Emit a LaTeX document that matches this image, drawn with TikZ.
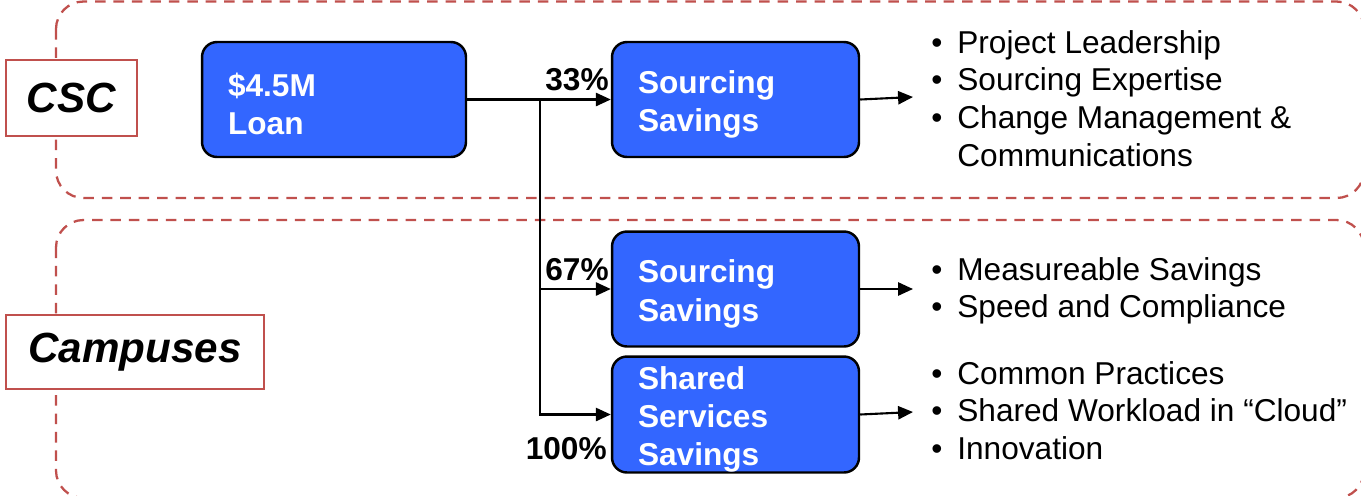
\documentclass[tikz,border=0pt]{standalone}
\usepackage{fontspec}
\setmainfont{Liberation Sans}
\usetikzlibrary{arrows.meta}
\definecolor{regred}{HTML}{C0504D}
\definecolor{boxblue}{HTML}{3366FF}
\tikzset{
  region/.style={draw=regred, line width=1.3pt, dash pattern=on 6pt off 4.5pt, rounded corners=0.55cm},
  tag/.style={draw=regred, line width=1.5pt, fill=white, font=\fontsize{24}{28}\selectfont\bfseries\itshape, inner sep=0pt},
  bluebox/.style={draw=black, line width=1.4pt, fill=boxblue, rounded corners=0.3cm, minimum height=2.3cm, inner xsep=0.52cm, inner ysep=0pt, align=left, text=white, font=\fontsize{18}{21.8}\selectfont\bfseries},
  conn/.style={draw=black, line width=1.2pt, -{Triangle[length=8.5pt,width=7.5pt]}},
  plainline/.style={draw=black, line width=1.2pt},
  pct/.style={font=\fontsize{18}{21.5}\selectfont\bfseries, inner sep=0pt, anchor=base east},
  blist/.style={font=\fontsize{18}{21.5}\selectfont, inner sep=0pt, anchor=base west},
}
\newcommand{\blt}{\textbullet}
\newcommand{\tstrut}{\rule{0pt}{18.6pt}}
\begin{document}
\begin{tikzpicture}[x=0.02cm, y=-0.02cm]
\useasboundingbox (0,0) rectangle (1361,495);
\clip (0,0) rectangle (1361,495);
% regions
\draw[region] (56,1.5) rectangle (1364,198);
\draw[region] (56,220) rectangle (1364,498);
% tags
\node[tag, minimum width=2.62cm, minimum height=1.52cm] (csc) at (71.5,98) {CSC};
\node[tag, minimum width=5.16cm, minimum height=1.48cm] (camp) at (135,352) {Campuses};
% boxes
\node[bluebox, minimum width=5.28cm, text width=4.24cm] (loan) at (334,99.5) {\tstrut\$4.5M\\Loan};
\node[bluebox, minimum width=4.94cm, text width=3.9cm] (src1) at (735.5,99.5) {\tstrut Sourcing\\Savings};
\node[bluebox, minimum width=4.94cm, text width=3.9cm] (src2) at (735.5,289) {\tstrut Sourcing\\Savings};
\node[bluebox, minimum width=4.94cm, text width=3.9cm] (shared) at (735.5,414.5) {\tstrut Shared\\Services\\Savings};
% connectors
\coordinate (j) at (540,99.5);
\draw[conn] (loan.east) -- (src1.west);
\draw[plainline] (j) -- (540,415);
\draw[conn] (j) |- (src2.west);
\draw[conn] (j) |- (shared.west);
\coordinate (e1) at (913,97);
\coordinate (e2) at (913,289);
\coordinate (e3) at (913,412);
\draw[conn] (src1.east) -- (e1);
\draw[conn] (src2.east) -- (e2);
\draw[conn] (shared.east) -- (e3);
% percentages
\node[pct] (p33) at (609,90) {33\%};
\node[pct] (p67) at (609,280) {67\%};
\node[pct] (p100) at (607,459) {100\%};
% lists
\node[blist] (l1) at (931,53) {\begin{tabular}[t]{@{}l@{\hspace{8.5pt}}l@{}}\blt & Project Leadership\\ \blt & Sourcing Expertise\\ \blt & Change Management \&\\ & Communications\end{tabular}};
\node[blist] (l2) at (931,280) {\begin{tabular}[t]{@{}l@{\hspace{8.5pt}}l@{}}\blt & Measureable Savings\\ \blt & Speed and Compliance\end{tabular}};
\node[blist] (l3) at (931,384) {\begin{tabular}[t]{@{}l@{\hspace{8.5pt}}l@{}}\blt & Common Practices\\ \blt & Shared Workload in “Cloud”\\ \blt & Innovation\end{tabular}};
\end{tikzpicture}
\end{document}
